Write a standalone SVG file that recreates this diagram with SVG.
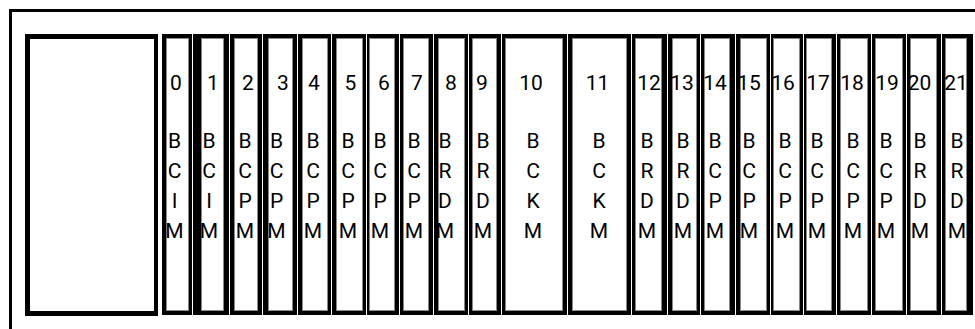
<svg xmlns="http://www.w3.org/2000/svg" width="975" height="329" viewBox="0 0 975 329">
<style>
.frame{fill:none;stroke:#000;stroke-width:3}
.outer{fill:#000}
.inner{fill:#fff;stroke:#888;stroke-width:1}
.t{font-family:Roboto,"Liberation Sans",sans-serif;font-size:21px;fill:#000;text-anchor:middle}
</style>
<rect width="975" height="329" fill="#fff"/>
<g id="frame"><path class="frame" d="M10.5 329 V10.5 H975"/></g>
<g id="bay"><rect x="25" y="34" width="133" height="282" fill="#000"/><rect x="30" y="39" width="124" height="272" fill="#fff"/></g>
<g id="slot0"><rect class="outer" x="162" y="34" width="30" height="281"/><rect class="inner" x="166.5" y="38.5" width="22" height="272"/><text class="t" x="176" y="90">0</text><text class="t" x="174.5" y="148">B</text><text class="t" x="174.5" y="178">C</text><text class="t" x="174.5" y="208">I</text><text class="t" x="174.5" y="238">M</text></g>
<g id="slot1"><rect class="outer" x="193" y="34" width="36" height="281"/><rect class="inner" x="201.5" y="38.5" width="22" height="272"/><text class="t" x="213" y="90">1</text><text class="t" x="209" y="148">B</text><text class="t" x="209" y="178">C</text><text class="t" x="209" y="208">I</text><text class="t" x="209" y="238">M</text></g>
<g id="slot2"><rect class="outer" x="230" y="34" width="32" height="281"/><rect class="inner" x="234.5" y="38.5" width="23" height="272"/><text class="t" x="248" y="90">2</text><text class="t" x="245" y="148">B</text><text class="t" x="245" y="178">C</text><text class="t" x="245" y="208">P</text><text class="t" x="245" y="238">M</text></g>
<g id="slot3"><rect class="outer" x="263" y="34" width="34" height="281"/><rect class="inner" x="268.5" y="38.5" width="24" height="272"/><text class="t" x="283" y="90">3</text><text class="t" x="276.5" y="148">B</text><text class="t" x="276.5" y="178">C</text><text class="t" x="276.5" y="208">P</text><text class="t" x="276.5" y="238">M</text></g>
<g id="slot4"><rect class="outer" x="298" y="34" width="33" height="281"/><rect class="inner" x="302.5" y="38.5" width="25" height="272"/><text class="t" x="314" y="90">4</text><text class="t" x="313" y="148">B</text><text class="t" x="313" y="178">C</text><text class="t" x="313" y="208">P</text><text class="t" x="313" y="238">M</text></g>
<g id="slot5"><rect class="outer" x="332" y="34" width="34" height="281"/><rect class="inner" x="336.5" y="38.5" width="26" height="272"/><text class="t" x="350.5" y="90">5</text><text class="t" x="348" y="148">B</text><text class="t" x="348" y="178">C</text><text class="t" x="348" y="208">P</text><text class="t" x="348" y="238">M</text></g>
<g id="slot6"><rect class="outer" x="367" y="34" width="32" height="281"/><rect class="inner" x="369.5" y="38.5" width="25" height="272"/><text class="t" x="384" y="90">6</text><text class="t" x="380" y="148">B</text><text class="t" x="380" y="178">C</text><text class="t" x="380" y="208">P</text><text class="t" x="380" y="238">M</text></g>
<g id="slot7"><rect class="outer" x="400" y="34" width="33" height="281"/><rect class="inner" x="403.5" y="38.5" width="25" height="272"/><text class="t" x="417" y="90">7</text><text class="t" x="414" y="148">B</text><text class="t" x="414" y="178">C</text><text class="t" x="414" y="208">P</text><text class="t" x="414" y="238">M</text></g>
<g id="slot8"><rect class="outer" x="434" y="34" width="34" height="281"/><rect class="inner" x="438.5" y="38.5" width="26" height="272"/><text class="t" x="451" y="90">8</text><text class="t" x="445" y="148">B</text><text class="t" x="445" y="178">R</text><text class="t" x="445" y="208">D</text><text class="t" x="445" y="238">M</text></g>
<g id="slot9"><rect class="outer" x="469" y="34" width="32" height="281"/><rect class="inner" x="472.5" y="38.5" width="24" height="272"/><text class="t" x="482" y="90">9</text><text class="t" x="483" y="148">B</text><text class="t" x="483" y="178">R</text><text class="t" x="483" y="208">D</text><text class="t" x="483" y="238">M</text></g>
<g id="slot10"><rect class="outer" x="502" y="34" width="65" height="281"/><rect class="inner" x="505.5" y="38.5" width="57" height="272"/><text class="t" x="531" y="90">10</text><text class="t" x="533" y="148">B</text><text class="t" x="533" y="178">C</text><text class="t" x="533" y="208">K</text><text class="t" x="533" y="238">M</text></g>
<g id="slot11"><rect class="outer" x="568" y="34" width="63" height="281"/><rect class="inner" x="572.5" y="38.5" width="54" height="272"/><text class="t" x="597.5" y="90">11</text><text class="t" x="599" y="148">B</text><text class="t" x="599" y="178">C</text><text class="t" x="599" y="208">K</text><text class="t" x="599" y="238">M</text></g>
<g id="slot12"><rect class="outer" x="632" y="34" width="35" height="281"/><rect class="inner" x="635.5" y="38.5" width="26" height="272"/><text class="t" x="649" y="90">12</text><text class="t" x="647" y="148">B</text><text class="t" x="647" y="178">R</text><text class="t" x="647" y="208">D</text><text class="t" x="647" y="238">M</text></g>
<g id="slot13"><rect class="outer" x="668" y="34" width="32" height="281"/><rect class="inner" x="672.5" y="38.5" width="24" height="272"/><text class="t" x="682" y="90">13</text><text class="t" x="683" y="148">B</text><text class="t" x="683" y="178">R</text><text class="t" x="683" y="208">D</text><text class="t" x="683" y="238">M</text></g>
<g id="slot14"><rect class="outer" x="701" y="34" width="34" height="281"/><rect class="inner" x="704.5" y="38.5" width="25" height="272"/><text class="t" x="715" y="90">14</text><text class="t" x="715" y="148">B</text><text class="t" x="715" y="178">C</text><text class="t" x="715" y="208">P</text><text class="t" x="715" y="238">M</text></g>
<g id="slot15"><rect class="outer" x="736" y="34" width="34" height="281"/><rect class="inner" x="740.5" y="38.5" width="26" height="272"/><text class="t" x="749" y="90">15</text><text class="t" x="749" y="148">B</text><text class="t" x="749" y="178">C</text><text class="t" x="749" y="208">P</text><text class="t" x="749" y="238">M</text></g>
<g id="slot16"><rect class="outer" x="771" y="34" width="32" height="281"/><rect class="inner" x="773.5" y="38.5" width="26" height="272"/><text class="t" x="783" y="90">16</text><text class="t" x="785" y="148">B</text><text class="t" x="785" y="178">C</text><text class="t" x="785" y="208">P</text><text class="t" x="785" y="238">M</text></g>
<g id="slot17"><rect class="outer" x="804" y="34" width="32" height="281"/><rect class="inner" x="806.5" y="38.5" width="25" height="272"/><text class="t" x="818" y="90">17</text><text class="t" x="817" y="148">B</text><text class="t" x="817" y="178">C</text><text class="t" x="817" y="208">P</text><text class="t" x="817" y="238">M</text></g>
<g id="slot18"><rect class="outer" x="837" y="34" width="34" height="281"/><rect class="inner" x="840.5" y="38.5" width="27" height="272"/><text class="t" x="852" y="90">18</text><text class="t" x="853" y="148">B</text><text class="t" x="853" y="178">C</text><text class="t" x="853" y="208">P</text><text class="t" x="853" y="238">M</text></g>
<g id="slot19"><rect class="outer" x="872" y="34" width="34" height="281"/><rect class="inner" x="875.5" y="38.5" width="27" height="272"/><text class="t" x="887" y="90">19</text><text class="t" x="886" y="148">B</text><text class="t" x="886" y="178">C</text><text class="t" x="886" y="208">P</text><text class="t" x="886" y="238">M</text></g>
<g id="slot20"><rect class="outer" x="907" y="34" width="34" height="281"/><rect class="inner" x="910.5" y="38.5" width="26" height="272"/><text class="t" x="919.5" y="90">20</text><text class="t" x="920" y="148">B</text><text class="t" x="920" y="178">R</text><text class="t" x="920" y="208">D</text><text class="t" x="920" y="238">M</text></g>
<g id="slot21"><rect class="outer" x="942" y="34" width="31" height="281"/><rect class="inner" x="945.5" y="38.5" width="21" height="272"/><text class="t" x="956" y="90">21</text><text class="t" x="957" y="148">B</text><text class="t" x="957" y="178">R</text><text class="t" x="957" y="208">D</text><text class="t" x="957" y="238">M</text></g>
<g id="connectors"></g>
</svg>
